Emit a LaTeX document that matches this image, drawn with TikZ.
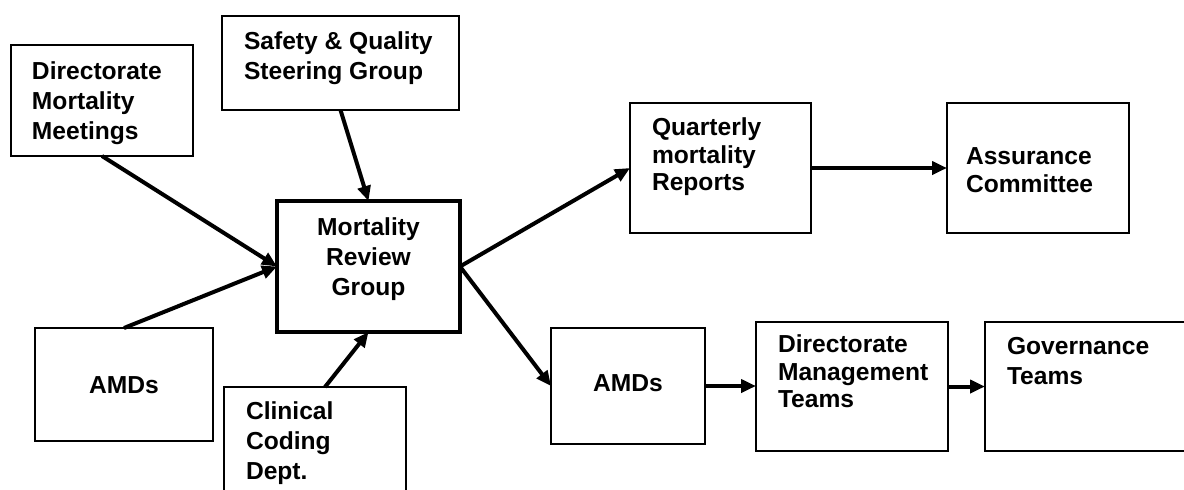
\documentclass[tikz,border=0pt]{standalone}
\usepackage{fontspec}
\setmainfont{Liberation Sans}
\usetikzlibrary{fit,arrows.meta,calc}
\tikzset{
  box/.style={draw=black, line width=0.85pt, inner sep=0pt, outer sep=0pt},
  thickbox/.style={box, line width=2pt},
  lbl/.style={inner sep=0pt, outer sep=0pt, align=left, anchor=north west,
    font=\fontsize{12.3}{15}\selectfont\bfseries},
  tightlbl/.style={lbl, font=\fontsize{12.3}{13.6}\selectfont\bfseries},
  clbl/.style={lbl, align=center, anchor=north},
  flow/.style={line width=2pt, -{Triangle[length=7.5pt,width=6.5pt]}}
}
\begin{document}
\begin{tikzpicture}[x=0.5pt,y=-0.5pt]
\useasboundingbox (0,0) rectangle (1184,489);
\clip (0,0) rectangle (1184,489);
% boxes
\node[box, fit={(11,45) (193,156)}] (dmm) {};
\node[box, fit={(222,16) (459,110)}] (sqg) {};
\node[thickbox, fit={(277,201) (460,332)}] (mrg) {};
\node[box, fit={(35,328) (213,441)}] (amdl) {};
\node[box, fit={(224,387) (406,520)}] (ccd) {};
\node[box, fit={(630,103) (811,233)}] (qmr) {};
\node[box, fit={(947,103) (1129,233)}] (ac) {};
\node[box, fit={(551,328) (705,444)}] (amdr) {};
\node[box, fit={(756,322) (948,451)}] (dmt) {};
\node[box, fit={(985,322) (1200,451)}] (gov) {};
% labels
\node[lbl] (tdmm) at (32,62) {Directorate\\Mortality\\Meetings};
\node[lbl] (tsqg) at (244,32) {Safety \& Quality\\Steering Group};
\node[clbl] (tmrg) at (368.5,218) {Mortality\\Review\\Group};
\node[clbl] (tamdl) at (124,377) {AMDs};
\node[lbl] (tccd) at (246,402) {Clinical\\Coding\\Dept.};
\node[tightlbl] (tqmr) at (652,118) {Quarterly\\mortality\\Reports};
\node[tightlbl] (tac) at (966,148) {Assurance\\Committee};
\node[clbl] (tamdr) at (628,375) {AMDs};
\node[tightlbl] (tdmt) at (778,335) {Directorate\\Management\\Teams};
\node[lbl] (tgov) at (1007,337) {Governance\\Teams};
% connectors
\draw[flow] (dmm.south) -- (mrg.west);
\draw[flow] (amdl.north) -- (mrg.west);
\draw[flow] (sqg.south) -- (mrg.north);
\draw[flow] ($(ccd.north)+(10,0)$) -- (mrg.south);
\draw[flow] (mrg.east) -- (qmr.west);
\draw[flow] (mrg.east) -- (amdr.west);
\draw[flow] (qmr.east) -- (ac.west);
\draw[flow] (amdr.east) -- (amdr.east -| dmt.west);
\draw[flow] (dmt.east) -- (dmt.east -| gov.west);
\end{tikzpicture}
\end{document}
